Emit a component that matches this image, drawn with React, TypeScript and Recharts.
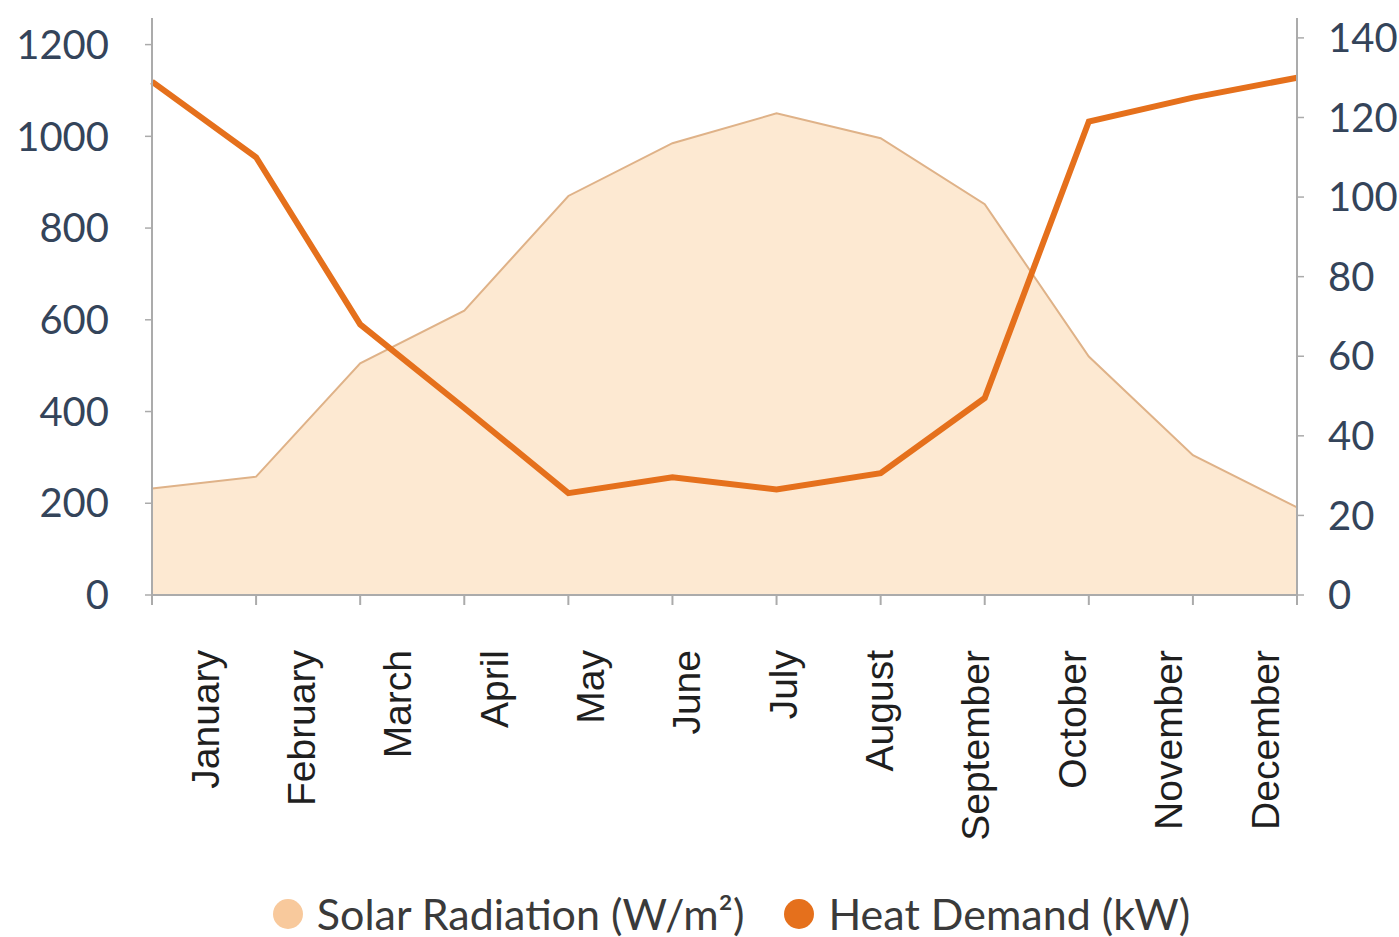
import { ComposedChart, Area, Line, XAxis, YAxis, Legend } from 'recharts'

const months = [
  'January', 'February', 'March', 'April', 'May', 'June',
  'July', 'August', 'September', 'October', 'November', 'December',
]
const solarRadiation = [232, 258, 505, 620, 870, 985, 1050, 996, 852, 520, 305, 191]
const heatDemand = [129, 110, 68, 47, 25.6, 29.6, 26.5, 30.6, 49.5, 119, 125, 130]
const leftTicks = [0, 200, 400, 600, 800, 1000, 1200]
const rightTicks = [0, 20, 40, 60, 80, 100, 120, 140]

const data = months.map((month, i) => ({
  month,
  solar: solarRadiation[i],
  heat: heatDemand[i],
}))

const SOLAR_FILL = '#fde9d2'
const SOLAR_STROKE = '#dfb288'
const SOLAR_DOT = '#f8c99c'
const HEAT = '#e5701c'
const AXIS = '#ababab'
const TICK_TEXT = '#34445a'

// tick marks only, no text
function NoTick() {
  return <g />
}

function MonthTick({ x, y, payload }: any) {
  const ty = y + 43
  return (
    <text
      x={x}
      y={ty}
      transform={`rotate(-90, ${x}, ${ty})`}
      textAnchor="end"
      dominantBaseline="central"
      fontFamily="Liberation Sans"
      fontSize={39}
      fill="#1f1f1f"
    >
      {payload.value}
    </text>
  )
}

function LegendContent() {
  const dot = (color: string) => (
    <span
      style={{
        display: 'inline-block',
        width: 30,
        height: 30,
        borderRadius: '50%',
        background: color,
        marginRight: 14,
      }}
    />
  )
  return (
    <div
      style={{
        height: 70,
        display: 'flex',
        justifyContent: 'center',
        alignItems: 'center',
        paddingLeft: 64,
        paddingTop: 24,
        boxSizing: 'border-box',
        fontFamily: 'Lato',
        fontSize: 43,
        lineHeight: '44px',
        color: '#3a3a3a',
      }}
    >
      <span style={{ display: 'flex', alignItems: 'center', marginRight: 40 }}>
        {dot(SOLAR_DOT)}Solar Radiation (W/m²)
      </span>
      <span style={{ display: 'flex', alignItems: 'center' }}>
        {dot(HEAT)}Heat Demand (kW)
      </span>
    </div>
  )
}

export default function App() {
  return (
    <div style={{ position: 'absolute', left: 0, top: 0, background: '#fff' }}>
      <ComposedChart
        width={1399}
        height={937}
        data={data}
        margin={{ top: 18, right: 0, bottom: 0, left: 0 }}
      >
        <XAxis
          xAxisId={0}
          dataKey="month"
          scale="point"
          padding={{ left: 0, right: 0 }}
          interval={0}
          tick={<NoTick />}
          tickSize={10}
          height={12}
          axisLine={{ stroke: AXIS, strokeWidth: 2 }}
          tickLine={{ stroke: AXIS, strokeWidth: 2 }}
        />
        <XAxis
          xAxisId={1}
          dataKey="month"
          scale="point"
          padding={{ left: 53, right: 32 }}
          interval={0}
          axisLine={false}
          tickLine={false}
          tickSize={0}
          tickMargin={0}
          height={260}
          tick={<MonthTick />}
        />
        <YAxis
          yAxisId="left"
          width={152}
          domain={[0, 1258]}
          ticks={leftTicks}
          interval={0}
          tickSize={7}
          tickMargin={36}
          axisLine={{ stroke: AXIS, strokeWidth: 2 }}
          tickLine={{ stroke: AXIS, strokeWidth: 1.5 }}
          tick={{ fill: TICK_TEXT, fontSize: 40, fontFamily: 'Lato' }}
        />
        <YAxis
          yAxisId="right"
          orientation="right"
          width={102}
          domain={[0, 145]}
          ticks={rightTicks}
          interval={0}
          tickSize={7}
          tickMargin={24}
          axisLine={{ stroke: AXIS, strokeWidth: 2 }}
          tickLine={{ stroke: AXIS, strokeWidth: 1.5 }}
          tick={{ fill: TICK_TEXT, fontSize: 40, fontFamily: 'Lato' }}
        />
        <Legend verticalAlign="bottom" content={() => <LegendContent />} />
        <Area
          xAxisId={0}
          yAxisId="left"
          type="linear"
          dataKey="solar"
          name="Solar Radiation (W/m²)"
          fill={SOLAR_FILL}
          fillOpacity={1}
          stroke={SOLAR_STROKE}
          strokeWidth={2}
          isAnimationActive={false}
        />
        <Line
          xAxisId={0}
          yAxisId="right"
          type="linear"
          dataKey="heat"
          name="Heat Demand (kW)"
          stroke={HEAT}
          strokeWidth={6}
          dot={false}
          isAnimationActive={false}
        />
      </ComposedChart>
    </div>
  )
}
